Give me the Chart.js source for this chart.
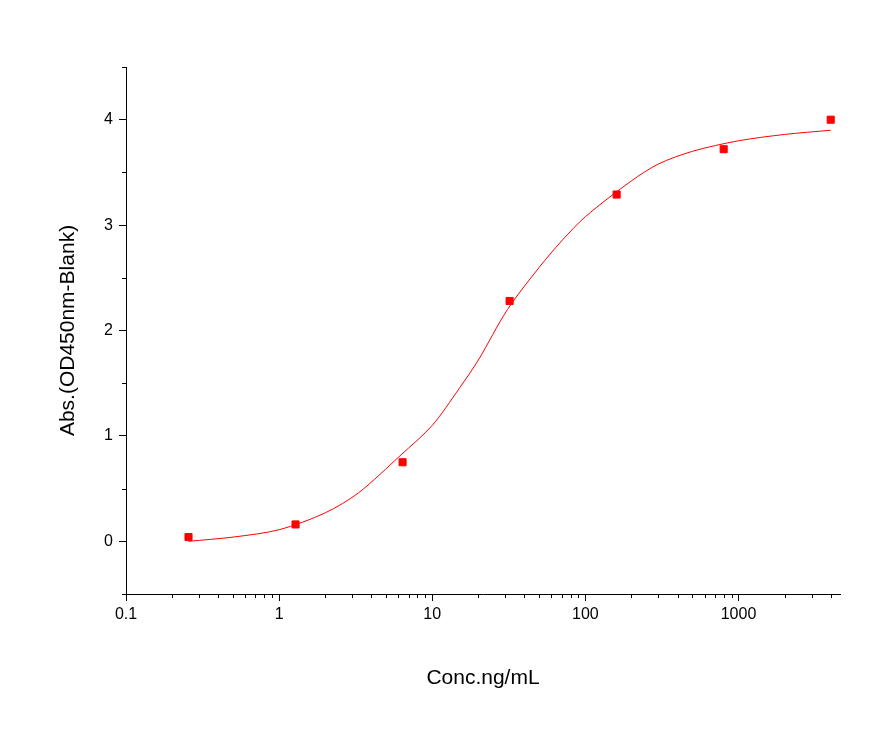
<!DOCTYPE html>
<html>
<head>
<meta charset="utf-8">
<script src="https://cdn.jsdelivr.net/npm/chart.js@4/dist/chart.umd.min.js"></script>
<style>
  html, body { margin: 0; padding: 0; background: #fff; }
  #wrap { width: 894px; height: 745px; }
</style>
</head>
<body>
<div id="wrap"><canvas id="c" width="894" height="745"></canvas></div>
<script>
// --- Data ---
const concX = [0.256, 1.28, 6.4, 32, 160, 800, 4000];
const absY = [0.04, 0.16, 0.75, 2.28, 3.29, 3.72, 4.0];
// fitted curve
const fitX = [0.256, 0.5, 1, 2, 3.3, 6.25, 10, 15, 20, 31, 50, 70, 100, 200, 300, 500, 1000, 2000, 4000];
const fitY = [0.0, 0.04, 0.11, 0.27, 0.46, 0.82, 1.1, 1.45, 1.72, 2.2, 2.6, 2.85, 3.08, 3.42, 3.58, 3.7, 3.8, 3.86, 3.9];
const xMajor = [0.1, 1, 10, 100, 1000];
const yMajor = [0, 1, 2, 3, 4];

const font = { family: 'Liberation Sans, Arial', size: 16 };

const minorTicks = {
  id: 'minorTicks',
  afterDraw(chart) {
    const ctx = chart.ctx, xs = chart.scales.x, ys = chart.scales.y;
    ctx.save();
    ctx.strokeStyle = '#000';
    ctx.lineWidth = 1;
    ctx.beginPath();
    for (let d = 0.1; d < 5000; d *= 10) {
      for (let m = 2; m <= 9; m++) {
        const v = d * m;
        if (v > xs.max) break;
        const px = Math.round(xs.getPixelForValue(v)) + 0.5;
        ctx.moveTo(px, xs.top);
        ctx.lineTo(px, xs.top + 4);
      }
    }
    for (let v = -0.5; v <= 4.5; v += 1) {
      const py = Math.round(ys.getPixelForValue(v)) + 0.5;
      ctx.moveTo(ys.right, py);
      ctx.lineTo(ys.right - 4, py);
    }
    ctx.stroke();
    ctx.restore();
  }
};

new Chart(document.getElementById('c').getContext('2d'), {
  type: 'scatter',
  data: {
    datasets: [{
      label: 'fit',
      data: fitX.map((x, i) => ({ x: x, y: fitY[i] })),
      showLine: true,
      borderColor: '#ff0000',
      borderWidth: 1,
      pointRadius: 0,
      tension: 0.3
    }, {
      label: 'data',
      data: concX.map((x, i) => ({ x: x, y: absY[i] })),
      pointStyle: 'rect',
      pointRadius: 5,
      backgroundColor: '#ff0000',
      borderColor: '#ff0000'
    }]
  },
  options: {
    responsive: false,
    animation: false,
    layout: { padding: { top: 67, right: 54, left: 56, bottom: 0 } },
    plugins: { legend: { display: false }, tooltip: { enabled: false } },
    scales: {
      x: {
        type: 'logarithmic',
        min: 0.1, max: 4600,
        afterBuildTicks: s => { s.ticks = xMajor.map(v => ({ value: v })); },
        afterFit: s => { s.height = 745 - 594; },
        ticks: { color: '#000', font: font, padding: 4, callback: v => String(v), maxRotation: 0, autoSkip: false },
        grid: { drawOnChartArea: false, tickLength: 7, color: '#000' },
        border: { color: '#000', width: 1 },
        title: { display: true, text: 'Conc.ng/mL', color: '#000', font: { family: font.family, size: 21 }, padding: { top: 0, bottom: 54 } }
      },
      y: {
        min: -0.5, max: 4.5,
        afterBuildTicks: s => { s.ticks = yMajor.map(v => ({ value: v })); },
        afterFit: s => { s.width = 70; },
        ticks: { color: '#000', font: font, padding: 6 },
        grid: { drawOnChartArea: false, tickLength: 7, color: '#000' },
        border: { color: '#000', width: 1 },
        title: { display: true, text: 'Abs.(OD450nm-Blank)', color: '#000', font: { family: font.family, size: 21 }, padding: { top: 0, bottom: 0 } }
      }
    }
  },
  plugins: [minorTicks]
});
</script>
</body>
</html>
